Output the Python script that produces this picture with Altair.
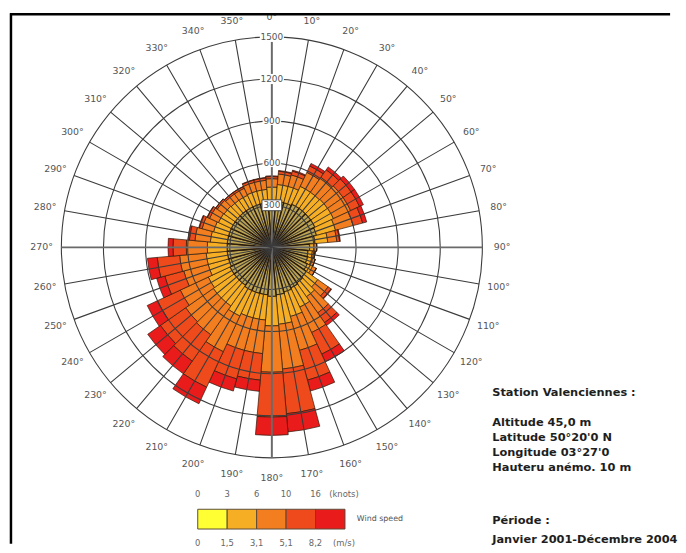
import math
import altair as alt
import pandas as pd

# ---------------- data ----------------
directions = list(range(0, 360, 10))
speed_bins = ["0 - 1,5", "1,5 - 3,1", "3,1 - 5,1", "5,1 - 8,2", "> 8,2"]
bin_colors = ["#FFFF33", "#F6AE24", "#F27E1F", "#EE4A1C", "#EA1B1B"]

s_0_15 = [330, 330, 330, 340, 340, 340, 340, 330, 310, 270, 260, 265, 280, 300, 310, 320, 330, 340,
          350, 340, 340, 340, 330, 330, 330, 320, 320, 320, 320, 320, 320, 320, 320, 320, 320, 320]
s_15_31 = [100, 120, 120, 140, 140, 145, 145, 140, 90, 30, 30, 30, 40, 100, 120, 150, 180, 210,
           210, 180, 180, 200, 180, 180, 170, 150, 150, 140, 120, 110, 100, 95, 90, 90, 95, 95]
s_31_51 = [60, 75, 85, 110, 130, 135, 135, 130, 65, 20, 20, 25, 30, 90, 140, 200, 250, 320,
           330, 240, 240, 280, 250, 240, 220, 180, 190, 150, 110, 85, 70, 60, 55, 55, 65, 65]
s_51_82 = [15, 20, 28, 50, 65, 70, 70, 70, 20, 0, 0, 0, 0, 25, 85, 170, 220, 320,
           320, 190, 210, 280, 230, 220, 180, 140, 160, 95, 40, 20, 17, 13, 13, 13, 17, 17]
s_82 = [5, 5, 7, 20, 25, 30, 30, 30, 5, 0, 0, 0, 0, 5, 25, 60, 80, 130,
        130, 80, 90, 130, 110, 110, 80, 60, 70, 35, 10, 5, 3, 2, 2, 2, 3, 3]

ring_values = [300, 600, 900, 1200, 1500]
knots_labels = ["0", "3", "6", "10", "16"]
ms_labels = ["0", "1,5", "3,1", "5,1", "8,2"]

station_lines = ["Station Valenciennes :", "Altitude 45,0 m", "Latitude 50°20'0 N",
                 "Longitude 03°27'0", "Hauteru anémo. 10 m", "Période :",
                 "Janvier 2001-Décembre 2004"]

# ---------------- tables ----------------
series = [s_0_15, s_15_31, s_31_51, s_51_82, s_82]
rows = []
for i, d in enumerate(directions):
    for k, arr in enumerate(series):
        rows.append({"dir": d, "bin": speed_bins[k], "order": k, "value": arr[i]})
df = pd.DataFrame(rows)
ring_df = pd.DataFrame({"r": ring_values, "lab": [str(v) for v in ring_values]})
spoke_df = pd.DataFrame({"a": directions})
leg_df = pd.DataFrame({"i0": list(range(5)), "i1": list(range(1, 6)), "bin": speed_bins,
                       "knots": knots_labels, "ms": ms_labels})

# ---------------- layout ----------------
W, H = 670, 537
CX, CY, R = 267, 237, 213
TAU = 2 * math.pi
GRID = "#3c3c3c"

theta_scale = alt.Scale(domain=[0, 360], range=[0, TAU])
r_scale = alt.Scale(type="linear", domain=[0, 1500], range=[0, R], zero=True, nice=False)
color_scale = alt.Scale(domain=speed_bins, range=bin_colors)
xy = dict(x=alt.value(CX), y=alt.value(CY))

bars = alt.Chart(df).transform_stack(
    stack="value", as_=["r0", "r1"], groupby=["dir"],
    sort=[alt.SortField(field="order", order="ascending")]
).transform_calculate(
    a0="datum.dir - 5", a1="datum.dir + 5"
).mark_arc(stroke="#2a1a0c").encode(
    theta=alt.Theta("a0:Q", scale=theta_scale, stack=False),
    theta2="a1:Q",
    radius=alt.Radius("r0:Q", scale=r_scale, stack=False),
    radius2="r1:Q",
    color=alt.condition("datum.order == 0", alt.value("#BCA452"),
                        alt.Color("bin:N", scale=color_scale, legend=None)),
    strokeWidth=alt.condition("datum.order == 0", alt.value(1.4), alt.value(0.7)),
    **xy
)

rings = alt.Chart(ring_df).mark_arc(filled=False, stroke=GRID, strokeWidth=1.1).encode(
    theta=alt.value(0), theta2=alt.value(TAU),
    radius=alt.Radius("r:Q", scale=r_scale, stack=False),
    **xy
)

spokes = alt.Chart(spoke_df).mark_arc(filled=False).encode(
    theta=alt.Theta("a:Q", scale=theta_scale, stack=False),
    theta2="a:Q",
    radius=alt.value(R),
    stroke=alt.condition("datum.a % 90 == 0", alt.value("#6a6a6a"), alt.value(GRID)),
    strokeWidth=alt.condition("datum.a % 90 == 0", alt.value(2), alt.value(1.1)),
    **xy
)

dir_labels = alt.Chart(spoke_df).transform_calculate(
    lab="datum.a + '°'"
).mark_text(font="DejaVu Sans", fontSize=9.5, color="#555555", align="center", baseline="middle").encode(
    theta=alt.Theta("a:Q", scale=theta_scale, stack=False),
    radius=alt.value(233),
    text="lab:N",
    **xy
)

y_ring = alt.Scale(domain=[0, 1500], range=[CY, CY - R], nice=False, zero=True)

ring_bg = alt.Chart(ring_df).transform_filter("datum.r > 300").transform_calculate(
    sz="pow(length(datum.lab) * 5.6 + 2, 2)"
).mark_point(shape="M-1,-0.42L1,-0.42L1,0.42L-1,0.42Z", filled=True, fill="white",
             opacity=1, strokeWidth=0).encode(
    x=alt.value(CX),
    y=alt.Y("r:Q", scale=y_ring, axis=None),
    size=alt.Size("sz:Q", scale=None, legend=None),
)

ring_box = alt.Chart(ring_df).transform_filter("datum.r == 300").mark_point(
    shape="M-1,-0.55L1,-0.55L1,0.55L-1,0.55Z", filled=True, fill="white",
    stroke="#444444", strokeWidth=1, opacity=1, size=400
).encode(
    x=alt.value(CX),
    y=alt.Y("r:Q", scale=y_ring, axis=None),
)

ring_text = alt.Chart(ring_df).mark_text(
    font="DejaVu Sans", fontSize=9, color="#555555", align="center", baseline="middle"
).encode(
    x=alt.value(CX),
    y=alt.Y("r:Q", scale=y_ring, axis=None),
    text="lab:N",
)

# ---------------- speed legend ----------------
leg_x = alt.Scale(domain=[0, 5], range=[192, 341], nice=False, zero=False)

leg_rect = alt.Chart(leg_df).mark_rect(stroke="#5a4a3a", strokeWidth=1).encode(
    x=alt.X("i0:Q", scale=leg_x, axis=None),
    x2="i1:Q",
    y=alt.value(502), y2=alt.value(522),
    color=alt.Color("bin:N", scale=color_scale, legend=None),
)
leg_knots = alt.Chart(leg_df).mark_text(
    font="DejaVu Sans", fontSize=8.5, color="#666666", align="center", baseline="middle"
).encode(x=alt.X("i0:Q", scale=leg_x, axis=None), y=alt.value(487), text="knots:N")
leg_ms = alt.Chart(leg_df).mark_text(
    font="DejaVu Sans", fontSize=8.5, color="#666666", align="center", baseline="middle"
).encode(x=alt.X("i0:Q", scale=leg_x, axis=None), y=alt.value(536), text="ms:N")

unit_df = pd.DataFrame({"t": ["(knots)", "(m/s)"], "yy": ["k", "m"]})
leg_unit_k = alt.Chart(unit_df).transform_filter("datum.yy == 'k'").mark_text(
    font="DejaVu Sans", fontSize=8.5, color="#666666", align="center", baseline="middle"
).encode(x=alt.value(340), y=alt.value(487), text="t:N")
leg_unit_m = alt.Chart(unit_df).transform_filter("datum.yy == 'm'").mark_text(
    font="DejaVu Sans", fontSize=8.5, color="#666666", align="center", baseline="middle"
).encode(x=alt.value(340), y=alt.value(536), text="t:N")

ws_df = pd.DataFrame({"t": ["Wind speed"]})
leg_ws = alt.Chart(ws_df).mark_text(
    font="DejaVu Sans", fontSize=8, color="#555555", align="left", baseline="middle"
).encode(x=alt.value(353), y=alt.value(512), text="t:N")

# ---------------- station text ----------------
line_y = [384, 415, 430, 445, 460, 514, 533]
info_layers = []
for txt, yy in zip(station_lines, line_y):
    info_layers.append(
        alt.Chart(pd.DataFrame({"t": [txt]})).mark_text(
            font="DejaVu Sans", fontWeight="bold", fontSize=11.5, color="#1e1e1e",
            align="left", baseline="middle"
        ).encode(x=alt.value(490), y=alt.value(yy), text="t:N")
    )

# ---------------- frame ----------------
frame_df = pd.DataFrame({"k": [0]})
frame_top = alt.Chart(frame_df).mark_rule(color="black", strokeWidth=2.5).encode(
    x=alt.value(2), x2=alt.value(W), y=alt.value(1))
frame_left = alt.Chart(frame_df).mark_rule(color="black", strokeWidth=2.5).encode(
    x=alt.value(3), y=alt.value(0), y2=alt.value(H))

chart = alt.layer(
    bars, rings, spokes, ring_bg, ring_box, ring_text, dir_labels,
    leg_rect, leg_knots, leg_ms, leg_unit_k, leg_unit_m, leg_ws,
    *info_layers, frame_top, frame_left
).properties(
    width=W, height=H, padding=0, background="white"
).configure_view(strokeWidth=0)

chart.save("out.html", embed_options={"renderer": "svg", "actions": False})
